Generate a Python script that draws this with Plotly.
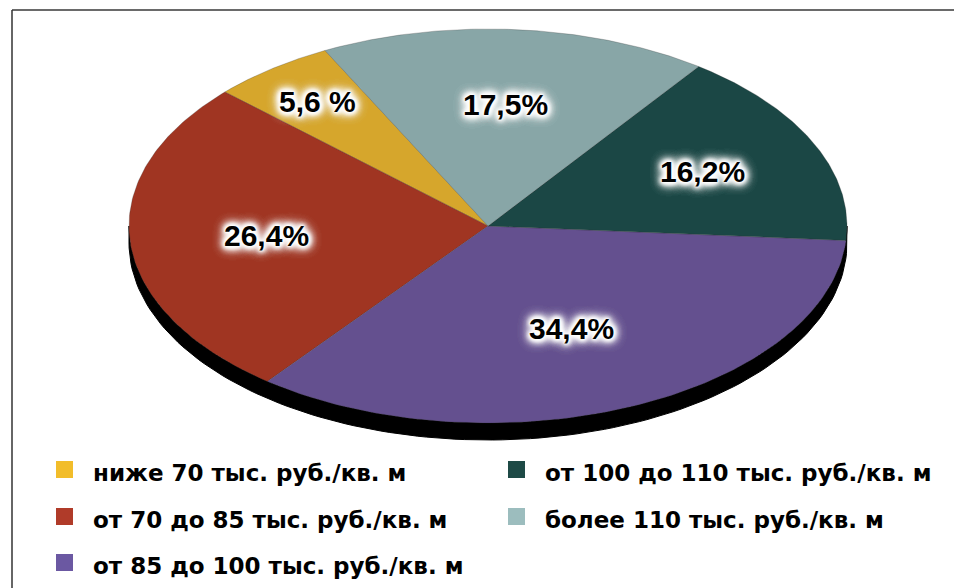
import numpy as np
import plotly.graph_objects as go

# ---- data ----
categories = [
    "ниже 70 тыс. руб./кв. м",
    "от 70 до 85 тыс. руб./кв. м",
    "от 85 до 100 тыс. руб./кв. м",
    "от 100 до 110 тыс. руб./кв. м",
    "более 110 тыс. руб./кв. м",
]
shares = [5.6, 26.4, 34.4, 16.2, 17.5]
share_labels = ["5,6 %", "26,4%", "34,4%", "16,2%", "17,5%"]

# ---- styles ----
face_colors = ["#D6A62C", "#A03522", "#64508F", "#1B4745", "#88A6A7"]
legend_colors = ["#F2BD2A", "#B03B29", "#6B58A2", "#1E4A46", "#9CBDBE"]
label_radius = [0.79, 0.62, 0.57, 0.66, 0.62]

W, H = 954, 588
CX, CY, RX, RY = 488, 226, 359, 197
DEPTH = 17
START_DEG = 117.0  # slices run counter-clockwise from here

GLOW = ", ".join(["0 0 2px #fff"] * 3 + ["0 0 5px #fff"] * 4 +
                 ["0 0 9px #fff"] * 4 + ["0 0 14px #fff"] * 3)


def arc(t0, t1, dy=0.0, n=120):
    t = np.radians(np.linspace(t0, t1, n))
    return CX + RX * np.cos(t), CY + dy - RY * np.sin(t)


fig = go.Figure()

# 3D rim (extrusion of the lower half)
x1, y1 = arc(180, 360, 0)
x2, y2 = arc(360, 180, DEPTH)
fig.add_trace(go.Scatter(
    x=np.concatenate([x1, x2, x1[:1]]), y=np.concatenate([y1, y2, y1[:1]]),
    mode="lines", fill="toself", fillcolor="#000000",
    line=dict(color="#000000", width=1), hoverinfo="skip"))

total = sum(shares)
angle = START_DEG
annotations = []
for cat, val, lab, col, rf in zip(categories, shares, share_labels, face_colors, label_radius):
    span = val / total * 360.0
    ax, ay = arc(angle, angle + span)
    fig.add_trace(go.Scatter(
        x=np.concatenate([[CX], ax, [CX]]), y=np.concatenate([[CY], ay, [CY]]),
        mode="lines", fill="toself", fillcolor=col,
        line=dict(color="rgba(40,40,40,0.35)", width=0.7),
        name=cat, hoverinfo="name"))
    mid = np.radians(angle + span / 2)
    annotations.append(dict(
        x=CX + rf * RX * np.cos(mid), y=CY - rf * RY * np.sin(mid),
        text=lab, showarrow=False, xanchor="center", yanchor="middle",
        font=dict(family="Liberation Sans", size=30, color="#000000", weight=700,
                  shadow=GLOW)))
    angle += span

# manual legend (two columns)
shapes = []
leg_cols_x = [56, 508]
leg_rows_top = [461, 508, 554]
slot = [(0, 0), (0, 1), (0, 2), (1, 0), (1, 1)]
SQ = 17
for (ci, ri), cat, col in zip(slot, categories, legend_colors):
    x0 = leg_cols_x[ci]
    y0 = leg_rows_top[ri]
    shapes.append(dict(type="rect", xref="x", yref="y", x0=x0, x1=x0 + SQ,
                       y0=y0, y1=y0 + SQ, fillcolor=col, line=dict(width=0)))
    annotations.append(dict(
        x=x0 + 35, y=y0 + 12, text=cat, showarrow=False,
        xanchor="left", yanchor="middle",
        font=dict(family="DejaVu Sans", size=23, color="#000000", weight=700)))

# frame
shapes.append(dict(type="line", xref="x", yref="y", x0=12, x1=W, y0=10, y1=10,
                   line=dict(color="#6A6A6A", width=2)))
shapes.append(dict(type="line", xref="x", yref="y", x0=12, x1=12, y0=10, y1=H,
                   line=dict(color="#333333", width=1.5)))

fig.update_layout(
    width=W, height=H, margin=dict(l=0, r=0, t=0, b=0),
    paper_bgcolor="white", plot_bgcolor="white", showlegend=False,
    xaxis=dict(range=[0, W], visible=False, fixedrange=True),
    yaxis=dict(range=[H, 0], visible=False, fixedrange=True),
    shapes=shapes, annotations=annotations,
)

fig.write_html("out.html")
